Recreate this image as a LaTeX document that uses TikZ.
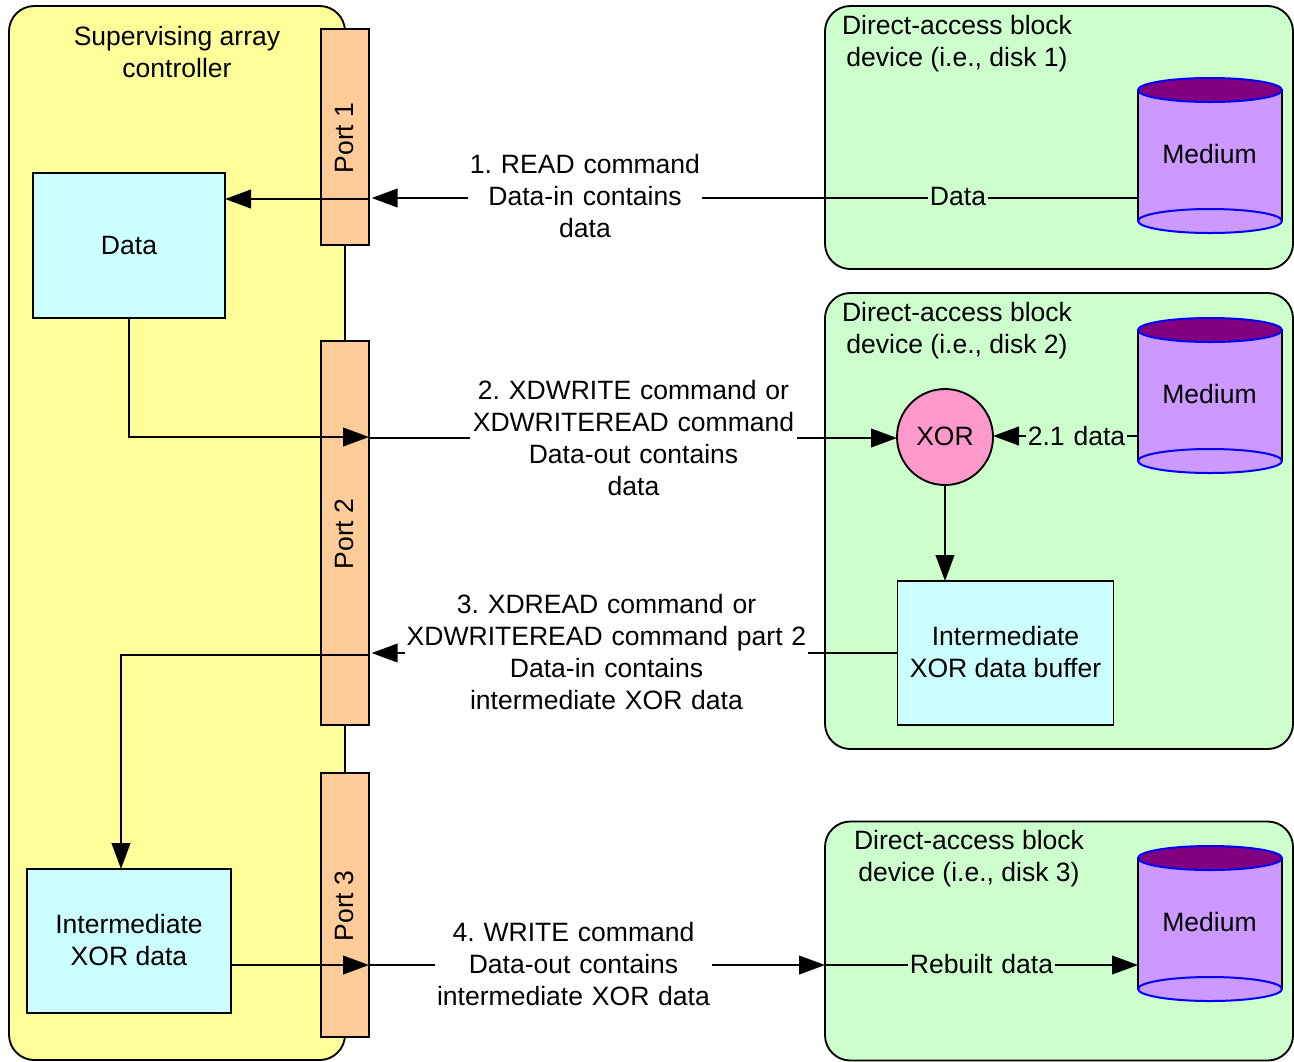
\documentclass[tikz,border=0pt]{standalone}
\usepackage{fontspec}
\setmainfont{Liberation Sans}
\usetikzlibrary{arrows.meta}

\definecolor{ctrlyellow}{HTML}{FFFF99}
\definecolor{portorange}{HTML}{FFCC99}
\definecolor{diskgreen}{HTML}{CCFFCC}
\definecolor{datacyan}{HTML}{CCFFFF}
\definecolor{mediumlilac}{HTML}{CC99FF}
\definecolor{mediumtop}{HTML}{800080}
\definecolor{xorpink}{HTML}{FF99CC}

\tikzset{
  every node/.style={font=\fontsize{19.9}{24}\selectfont\frenchspacing},
  pxsize/.style 2 args={minimum width=#1*0.75pt,minimum height=#2*0.75pt,inner sep=0pt,outer sep=0pt},
  shell/.style={draw=black,line width=1.4pt,rounded corners=19pt},
  portbox/.style={draw=black,line width=1.4pt,fill=portorange},
  databox/.style={draw=black,line width=1.4pt,fill=datacyan,align=center},
  msg/.style={align=center,inner sep=0pt,text width=#1*0.75pt},
  link/.style={line width=1.5pt},
  arr/.style={line width=1.5pt,-{Triangle[length=19.5pt,width=14pt]}},
}

% cylinder: name, y of the top ellipse
\newcommand{\mediumdisk}[2]{
  \node[fill=mediumlilac,pxsize={144}{131}] (#1) at (1210,#2+65.5) {};
  \draw[line width=1.4pt] (#1.north west) -- (#1.south west) (#1.north east) -- (#1.south east);
  \draw[blue,line width=1.5pt,fill=mediumlilac] (#1.south) ellipse (72 and 12);
  \draw[blue,line width=1.5pt,fill=mediumtop] (#1.north) ellipse (72 and 12);
  \node (#1txt) at (1209.5,#2+64) {Medium};
}

\begin{document}
\begin{tikzpicture}[x=0.75pt,y=-0.75pt]
\useasboundingbox (0,0) rectangle (1294,1061);

% controller side
\node[shell,fill=ctrlyellow,pxsize={336}{1054}] (ctrl) at (177,533) {};
\node[align=center,inner sep=0pt] (ctrltitle) at (177,52) {Supervising array\\controller};

\node[portbox,pxsize={48}{216}] (port1) at (345,137) {};
\node[portbox,pxsize={48}{384}] (port2) at (345,533) {};
\node[portbox,pxsize={48}{264}] (port3) at (345,905) {};
\node[rotate=90] (port1txt) at (344,138) {Port 1};
\node[rotate=90] (port2txt) at (344,534) {Port 2};
\node[rotate=90] (port3txt) at (344,906) {Port 3};

\node[databox,pxsize={192}{145}] (data) at (129,245.5) {Data};
\node[databox,pxsize={204}{144}] (xordata) at (129,941) {};
\node[align=center,inner sep=0pt] (xordatatxt) at (129,940) {Intermediate\\XOR data};

% disks
\node[shell,fill=diskgreen,pxsize={468}{263}] (disk1) at (1059,137.5) {};
\node[shell,fill=diskgreen,pxsize={468}{456}] (disk2) at (1059,521) {};
\node[shell,fill=diskgreen,pxsize={468}{239}] (disk3) at (1059,941) {};
\node[align=center,inner sep=0pt] (disk1title) at (957,44) {Direct-access block\\device (i.e., disk 1)};
\node[align=center,inner sep=0pt] (disk2title) at (957,331) {Direct-access block\\device (i.e., disk 2)};
\node[align=center,inner sep=0pt] (disk3title) at (969,859) {Direct-access block\\device (i.e., disk 3)};

\mediumdisk{medA}{90}
\mediumdisk{medB}{330}
\mediumdisk{medC}{858}

\node[circle,draw=black,line width=1.4pt,fill=xorpink,pxsize={96}{96}] (xor) at (945,437) {};
\node[inner sep=0pt] (xortxt) at (945,436) {XOR};
\node[databox,pxsize={216}{144}] (buffer) at (1005.5,653) {};
\node[align=center,inner sep=0pt] (buffertxt) at (1005.5,652) {Intermediate\\XOR data buffer};

% message labels
\node[msg=234] (read) at (585,196) {1. READ command\\Data-in contains\\data};
\node[msg=327] (xdwrite) at (633.5,438) {2. XDWRITE command or\\XDWRITEREAD command\\Data-out contains\\data};
\node[msg=403] (xdread) at (606.5,652) {3. XDREAD command or\\XDWRITEREAD command part 2\\Data-in contains\\intermediate XOR data};
\node[msg=277] (write) at (573.5,964) {4. WRITE command\\Data-out contains\\intermediate XOR data};
\node[msg=60] (dataA) at (958,196) {Data};
\node[msg=101] (dataB) at (1076.5,436) {2.1 data};
\node[msg=147] (rebuilt) at (981.5,964) {Rebuilt data};

\coordinate (rowA) at (0,198);
\coordinate (rowAb) at (0,199);
\coordinate (rowB) at (0,438);
\coordinate (rowC) at (0,436);
\coordinate (rowD) at (0,653);
\coordinate (rowE) at (0,965);
\coordinate (bendA) at (129,437);
\coordinate (bendB) at (121,655);

% step 1
\draw[link] (medA.west |- rowA) -- (dataA.east |- rowA);
\draw[link] (dataA.west |- rowA) -- (read.east |- rowA);
\draw[arr,shorten >=2pt] (read.west |- rowA) -- (port1.east |- rowA);
\draw[arr] (port1.east |- rowAb) -- (data.east |- rowAb);

% step 2
\draw[arr] (data.south) -- (bendA) -- (port2.east |- bendA);
\draw[link] (port2.east |- rowB) -- (xdwrite.west |- rowB);
\draw[arr] (xdwrite.east |- rowB) -- (xor.west |- rowB);
\draw[link] (medB.west |- rowC) -- (dataB.east |- rowC);
\draw[arr] (dataB.west |- rowC) -- (xor.east |- rowC);
\draw[arr] (xor.south) -- (buffer.north -| xor.south);

% step 3
\draw[link] (buffer.west |- rowD) -- (xdread.east |- rowD);
\draw[arr,shorten >=2pt] (xdread.west |- rowD) -- (port2.east |- rowD);
\draw[arr] (port2.east |- bendB) -- (bendB) -- (xordata.north -| bendB);

% step 4
\draw[arr] (xordata.east |- rowE) -- (port3.east |- rowE);
\draw[link] (port3.east |- rowE) -- (write.west |- rowE);
\draw[arr] (write.east |- rowE) -- (disk3.west |- rowE);
\draw[link] (disk3.west |- rowE) -- (rebuilt.west |- rowE);
\draw[arr] (rebuilt.east |- rowE) -- (medC.west |- rowE);

\end{tikzpicture}
\end{document}
